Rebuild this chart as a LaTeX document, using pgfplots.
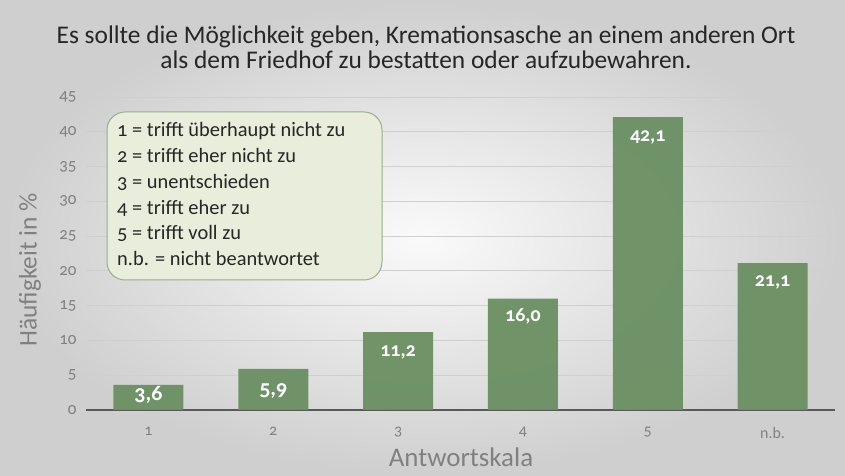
\documentclass[border=0pt]{standalone}
\usepackage{pgfplots}
\pgfplotsset{compat=1.18}
\usepackage{fontspec}
\setmainfont{Carlito}[Numbers=OldStyle]
\definecolor{barc}{HTML}{6A8F62}
\definecolor{txt}{HTML}{808080}
\definecolor{boxfill}{HTML}{E8EEDB}
\definecolor{boxdraw}{HTML}{98AF88}
\definecolor{titlec}{HTML}{262626}
\begin{document}
\begin{tikzpicture}[x=1bp,y=1bp]
\shade[inner color=white!96!gray, outer color=gray!38] (0,0) rectangle (845,476);
\useasboundingbox (0,0) rectangle (845,476);
\begin{axis}[
  at={(86bp,66bp)}, anchor=south west,
  scale only axis, width=749bp, height=313bp,
  xmin=-0.5, xmax=5.5, ymin=0, ymax=45,
  ytick={0,5,...,45}, xtick={0,...,5}, xticklabels={1,2,3,4,5,n.b.},
  axis lines*=left,
  y axis line style={draw=none},
  x axis line style={draw=gray!70!black, line width=1.1bp},
  major tick length=0pt,
  ymajorgrids, grid style={draw=gray!38, line width=0.8bp},
  /pgf/number format/assume math mode=true,
  yticklabel style={text=txt, font=\fontsize{17}{19}\selectfont, xshift=-6bp},
  xticklabel style={text=txt, font=\fontsize{16}{18}\selectfont, yshift=-14bp},
  ybar, bar width=70bp,
  point meta=explicit symbolic,
  visualization depends on={\thisrow{sh} \as \mysh},
  visualization depends on={\thisrow{fs} \as \myfs},
  nodes near coords,
  every node near coord/.append style={anchor=center, yshift=\mysh bp, text=white, font=\bfseries\fontsize{\myfs}{\myfs}\selectfont},
]
\addplot[fill=barc, draw=none, fill opacity=0.95, text opacity=1] table[x=x, y=y, meta=lab] {
x y lab sh fs
0 3.6 3,6 -10 22
1 5.9 5,9 -22 22
2 11.2 11,2 -20 20
3 16.0 16,0 -18 20
4 42.1 42,1 -20 20
5 21.1 21,1 -19 20
};
\end{axis}
\node[align=center, text=titlec, font=\fontsize{25.5}{25}\selectfont] at (426,428.5) {Es sollte die Möglichkeit geben, Kremationsasche an einem anderen Ort\\als dem Friedhof zu bestatten oder aufzubewahren.};
\node[rotate=90, text=txt, font=\fontsize{25.5}{27}\selectfont] at (30,206) {Häufigkeit in \%};
\node[text=txt, font=\fontsize{27}{29}\selectfont] at (461,19) {Antwortskala};
\draw[fill=boxfill, draw=boxdraw, line width=1bp, rounded corners=18bp] (107,364) rectangle (382,196);
\node[anchor=north west, align=left, text=titlec, font=\fontsize{20.5}{26}\selectfont, inner sep=0pt] at (117,354) {1 = trifft überhaupt nicht zu\\2 = trifft eher nicht zu\\3 = unentschieden\\4 = trifft eher zu\\5 = trifft voll zu\\n.b. = nicht beantwortet};
\end{tikzpicture}
\end{document}
